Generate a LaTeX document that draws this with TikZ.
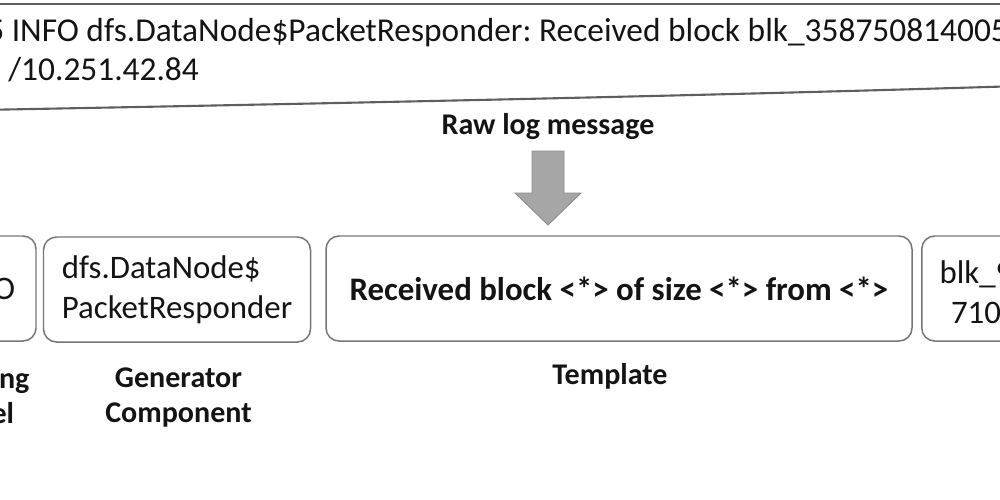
\documentclass[tikz,border=0pt]{standalone}
\usepackage{fontspec}
\setmainfont{Carlito}
\frenchspacing
\definecolor{boxgray}{HTML}{767676}
\definecolor{docgray}{HTML}{5E5E5E}
\definecolor{arrowfill}{HTML}{A6A6A6}
\definecolor{arrowline}{HTML}{8C8C8C}
\definecolor{ink}{HTML}{141414}
\tikzset{
  pill/.style={draw=boxgray, line width=0.85pt, rounded corners=2.6mm, inner sep=0pt,
    text=ink, font=\fontsize{18.7pt}{22.8pt}\selectfont},
  boldtxt/.style={text=ink, inner sep=0pt, font=\fontsize{17.1pt}{19.9pt}\selectfont\bfseries},
  rawtxt/.style={text=ink, inner sep=0pt, font=\fontsize{19pt}{22.8pt}\selectfont},
  docline/.style={draw=docgray, line width=1.2pt},
}
\begin{document}
\begin{tikzpicture}[x=0.2mm,y=-0.2mm]
\useasboundingbox (0,0) rectangle (1000,500);
\clip (0,0) rectangle (1000,500);
% raw log message document shape
\draw[docline] (-20,4) -- (1020,4);
\draw[docline] (-20,110) .. controls (300,104) and (700,96) .. (1020,86);
\node[rawtxt, anchor=base west] (line1) at (-13,41) {5 INFO dfs.DataNode\$PacketResponder: Received block blk\_358750814005};
\node[rawtxt, anchor=base west] (line2) at (8,80) {/10.251.42.84};
% caption and arrow
\node[boldtxt, anchor=base] (rawlabel) at (548,134) {Raw log message};
\draw[fill=arrowfill, draw=arrowline, line width=0.5pt]
  (532,151) -- (564,151) -- (564,193) -- (581,193) -- (548,225) -- (515,193) -- (532,193) -- cycle;
% parsed fields
\node[pill, minimum width=108*0.2mm, minimum height=105*0.2mm] (level) at (-18,288.5) {INFO};
\node[pill, align=left, minimum width=267*0.2mm, minimum height=105*0.2mm] (comp) at (177,289.5) {dfs.DataNode\$\\PacketResponder};
\node[pill, minimum width=586*0.2mm, minimum height=105*0.2mm,
  font=\fontsize{18.7pt}{22.8pt}\selectfont\bfseries] (tmpl) at (619,288.5) {Received block <*> of size <*> from <*>};
\node[pill, align=center, minimum width=140*0.2mm, minimum height=105*0.2mm, anchor=west] (params) at (921,288.5) {};
\node[rawtxt, align=center, font=\fontsize{18.7pt}{22.8pt}\selectfont] (paramtxt) at (976,292) {blk\_9\\710};
% labels
\node[boldtxt, align=center, anchor=north] (levellab) at (-18,367) {Logging\\Level};
\node[boldtxt, align=center, anchor=north] (complab) at (178.5,367) {Generator\\Component};
\node[boldtxt, anchor=base] (tmpllab) at (610,384) {Template};
\end{tikzpicture}
\end{document}
